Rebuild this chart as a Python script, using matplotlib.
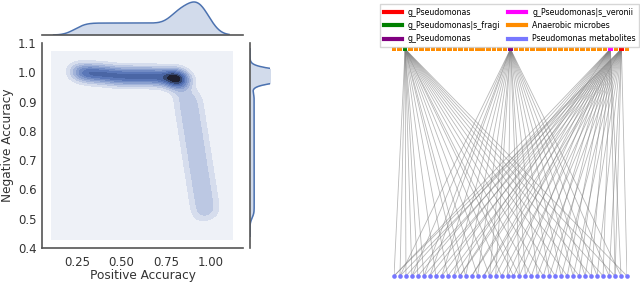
import numpy as np
import matplotlib
matplotlib.use("Agg")
import matplotlib.pyplot as plt
from matplotlib.lines import Line2D

# ---- joint plot samples (read off the density shape) ----
# horizontal arm
arm_pos = [0.25, 0.26, 0.28, 0.29, 0.31, 0.32, 0.34, 0.35, 0.37, 0.38,
           0.40, 0.41, 0.43, 0.44, 0.46, 0.47, 0.49, 0.50, 0.52, 0.53,
           0.55, 0.56, 0.58, 0.59, 0.61, 0.62, 0.64, 0.65, 0.67, 0.68,
           0.70, 0.71, 0.73, 0.74, 0.76]
arm_neg = [1.00, 1.01, 1.00, 0.99, 1.00, 1.00, 0.99, 1.00, 0.99, 1.00,
           0.99, 0.99, 1.00, 0.99, 0.98, 0.99, 0.99, 0.98, 0.99, 0.99,
           0.98, 0.99, 0.99, 0.98, 0.99, 0.99, 0.98, 0.99, 0.99, 0.98,
           0.99, 0.98, 0.99, 0.98, 0.98]
# corner cluster
peak_pos = [0.78, 0.79, 0.80, 0.80, 0.81, 0.81, 0.82, 0.82, 0.83, 0.84]
peak_neg = [0.99, 0.98, 0.99, 0.98, 0.98, 0.97, 0.98, 0.97, 0.97, 0.96]
# vertical arm
leg_pos = [0.837, 0.897, 0.845, 0.905, 0.852, 0.912, 0.860, 0.920,
           0.868, 0.928, 0.875, 0.935, 0.883, 0.943, 0.891, 0.951,
           0.898, 0.958, 0.906, 0.966, 0.914, 0.974, 0.921, 0.981,
           0.929, 0.989, 0.937, 0.997, 0.945]
leg_neg = [0.930, 0.915, 0.900, 0.885, 0.870, 0.855, 0.840, 0.825,
           0.810, 0.795, 0.780, 0.765, 0.750, 0.735, 0.720, 0.705,
           0.690, 0.675, 0.660, 0.645, 0.630, 0.615, 0.600, 0.585,
           0.570, 0.555, 0.540, 0.525, 0.510]
pos_acc = arm_pos + peak_pos + leg_pos
neg_acc = arm_neg + peak_neg + leg_neg

x_ticks = [0.25, 0.50, 0.75, 1.00]
x_ticklabels = ["0.25", "0.50", "0.75", "1.00"]
y_ticks = [0.4, 0.5, 0.6, 0.7, 0.8, 0.9, 1.0, 1.1]

# ---- network ----
n_microbes = 43
n_metabolites = 40
hl_idx = [41, 2, 21, 39]
hl_names = ["g_Pseudomonas", "g_Pseudomonas|s_fragi", "g_Pseudomonas",
            "g_Pseudomonas|s_veronii"]
hl_colors = ["red", "green", "purple", "magenta"]
edges = {
    2: [0, 1, 2, 3, 4, 5, 7, 9, 11, 12, 14, 16, 18, 20, 21, 23, 25, 27, 29,
        31, 33, 35, 37, 39],
    21: [1, 3, 5, 6, 8, 10, 12, 14, 16, 17, 19, 21, 22, 24, 26, 28, 30, 32,
         34, 36, 38],
    39: [0, 2, 4, 6, 8, 10, 11, 13, 15, 17, 19, 21, 23, 25, 27, 29, 31, 33,
         35, 37, 38],
    41: [0, 1, 3, 5, 7, 9, 11, 13, 15, 16, 18, 20, 22, 24, 26, 28, 30, 32,
         34, 36, 37, 39],
}

blue = "#4c72b0"
band_colors = ['#eef1f7', '#d6dded', '#bcc8e3', '#a2b3d9', '#899fcf',
               '#718bc4', '#5a77b8', '#4a66a5', '#34466f', '#1e2030']


def kde1d(v, g, bw):
    v = np.asarray(v)
    d = np.exp(-0.5 * ((g[:, None] - v[None, :]) / bw) ** 2).sum(axis=1)
    return d / (len(v) * bw * np.sqrt(2 * np.pi))


def kde2d(x, y, gx, gy, bx, by):
    X, Y = np.meshgrid(gx, gy)
    Z = np.zeros_like(X)
    for xi, yi in zip(x, y):
        Z += np.exp(-0.5 * (((X - xi) / bx) ** 2 + ((Y - yi) / by) ** 2))
    return X, Y, Z / (len(x) * 2 * np.pi * bx * by)


W, H = 640, 284
fig = plt.figure(figsize=(6.4, 2.84), dpi=100)
txt = '#333333'
spine_c = '#555555'

# main joint axes
ax = fig.add_axes([42 / W, (H - 248) / H, 201 / W, 205 / H])
gx = np.linspace(0.11, 1.12, 300)
gy = np.linspace(0.43, 1.07, 300)
X, Y, Z = kde2d(pos_acc, neg_acc, gx, gy, 0.046, 0.021)
ax.contourf(X, Y, Z, levels=np.linspace(0, Z.max(), 11), colors=band_colors)
ax.set_xlim(0.055, 1.178)
ax.set_ylim(0.4, 1.1)
ax.set_xticks(x_ticks)
ax.set_xticklabels(x_ticklabels)
ax.set_yticks(y_ticks)
ax.set_yticklabels(["%.1f" % v for v in y_ticks])
ax.tick_params(length=0, labelsize=8.5, colors=txt)
ax.tick_params(axis='x', pad=6)
ax.tick_params(axis='y', pad=4)
ax.set_xlabel("Positive Accuracy", fontsize=8.7, color=txt, labelpad=0)
ax.set_ylabel("Negative Accuracy", fontsize=8.7, color=txt, labelpad=3)
for s in ['top', 'right']:
    ax.spines[s].set_visible(False)
for s in ['left', 'bottom']:
    ax.spines[s].set_color(spine_c)
    ax.spines[s].set_linewidth(1.2)

# top marginal
ax_t = fig.add_axes([42 / W, (H - 35) / H, 201 / W, 35 / H])
g1 = np.linspace(0.12, 1.10, 300)
dx = kde1d(pos_acc, g1, 0.05)
ax_t.fill_between(g1, dx, color=blue, alpha=0.25, lw=0)
ax_t.plot(g1, dx, color=blue, lw=1.1)
ax_t.set_xlim(0.055, 1.178)
ax_t.set_ylim(0, dx.max() * 1.06)
ax_t.set_xticks([])
ax_t.set_yticks([])
for s in ['top', 'right', 'left']:
    ax_t.spines[s].set_visible(False)
ax_t.spines['bottom'].set_color(spine_c)
ax_t.spines['bottom'].set_linewidth(1.2)

# right marginal
ax_r = fig.add_axes([250 / W, (H - 248) / H, 20 / W, 205 / H])
g2 = np.linspace(0.44, 1.08, 300)
dy = kde1d(neg_acc, g2, 0.014)
ax_r.fill_betweenx(g2, dy, color=blue, alpha=0.25, lw=0)
ax_r.plot(dy, g2, color=blue, lw=1.1)
ax_r.set_ylim(0.4, 1.1)
ax_r.set_xlim(0, dy.max() * 0.3)
ax_r.set_xticks([])
ax_r.set_yticks([])
for s in ['top', 'right', 'bottom']:
    ax_r.spines[s].set_visible(False)
ax_r.spines['left'].set_color(spine_c)
ax_r.spines['left'].set_linewidth(1.2)

# network
axn = fig.add_axes([394 / W, (H - 276) / H, 233 / W, 227 / H])
axn.set_xlim(0, 1)
axn.set_ylim(0, 1)
axn.axis('off')
top_x = np.arange(n_microbes) / (n_microbes - 1)
bot_x = np.arange(n_metabolites) / (n_metabolites - 1)
for src, targets in edges.items():
    for t in targets:
        axn.plot([top_x[src], bot_x[t]], [1, 0], color='gray', lw=0.6,
                 alpha=0.55, zorder=1)
top_colors = ['darkorange'] * n_microbes
for i, c in zip(hl_idx, hl_colors):
    top_colors[i] = c
axn.scatter(top_x, np.ones(n_microbes), marker='s', s=11, c=top_colors,
            zorder=3, clip_on=False, linewidths=0)
axn.scatter(bot_x, np.zeros(n_metabolites), marker='o', s=11,
            color='#7777ff', zorder=3, clip_on=False, linewidths=0)

handles = [Line2D([], [], color=c, lw=3) for c in hl_colors]
labels = list(hl_names)
handles += [Line2D([], [], color='darkorange', lw=3),
            Line2D([], [], color='#7777ff', lw=3)]
labels += ["Anaerobic microbes", "Pseudomonas metabolites"]
fig.legend(handles, labels, loc='upper left', ncol=2, fontsize=5.7,
           bbox_to_anchor=(380 / W, 1 - 4 / H), borderaxespad=0,
           handlelength=2.3, labelspacing=0.55, columnspacing=0.9,
           handletextpad=0.8, borderpad=0.45, edgecolor='#cccccc',
           fancybox=False)

fig.savefig("out.png", dpi=100)
